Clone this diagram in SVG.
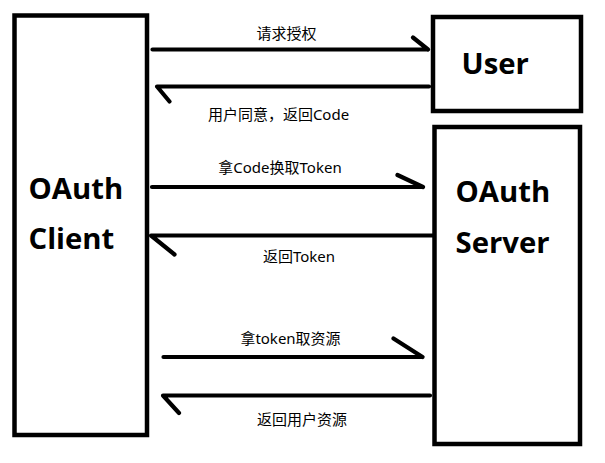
<svg xmlns="http://www.w3.org/2000/svg" width="605" height="463" viewBox="0 0 605 463">
<style>
.box{fill:#fff;stroke:#000;stroke-width:4.5}
.ttl{font-family:"Open Sans","Noto Sans","DejaVu Sans",sans-serif;font-weight:bold;font-size:29.3px;fill:#000}
.lbl{font-family:"Noto Sans","Noto Sans CJK SC",sans-serif;font-size:15px;fill:#000;text-anchor:middle}
.ln{fill:none;stroke:#000;stroke-width:4.2;stroke-linecap:round;stroke-linejoin:round}
</style>
<rect width="605" height="463" fill="#fff"/>
<g id="client">
<rect class="box" x="14.5" y="15.5" width="132.5" height="419.5"/>
<text class="ttl" x="28.5" y="199">OAuth</text>
<text class="ttl" x="28.5" y="249">Client</text>
</g>
<g id="user">
<rect class="box" x="433" y="17" width="148" height="94"/>
<text class="ttl" x="461.5" y="74">User</text>
</g>
<g id="server">
<rect class="box" x="434.5" y="127" width="145.5" height="317"/>
<text class="ttl" x="455.5" y="202">OAuth</text>
<text class="ttl" x="455.5" y="253">Server</text>
</g>
<g id="connectors">
<path class="ln" d="M152.5 49.5 H428 M413 37.5 L428 49.5"/>
<path class="ln" d="M429 86.5 H157 L169.5 101.5"/>
<path class="ln" d="M152 187 H423 M397.5 175 L423 187"/>
<path class="ln" d="M433 235.5 H151 L174.5 254.5"/>
<path class="ln" d="M163.5 357 H422.5 M393.5 338.5 L422.5 357"/>
<path class="ln" d="M430 395.5 H163 L179 413"/>
</g>
<g id="labels">
<text class="lbl" x="286.5" y="39">请求授权</text>
<text class="lbl" x="278.5" y="119.5">用户同意，返回Code</text>
<text class="lbl" x="280" y="172.5">拿Code换取Token</text>
<text class="lbl" x="299" y="262">返回Token</text>
<text class="lbl" x="290.5" y="344">拿token取资源</text>
<text class="lbl" x="302" y="425">返回用户资源</text>
</g>
</svg>
